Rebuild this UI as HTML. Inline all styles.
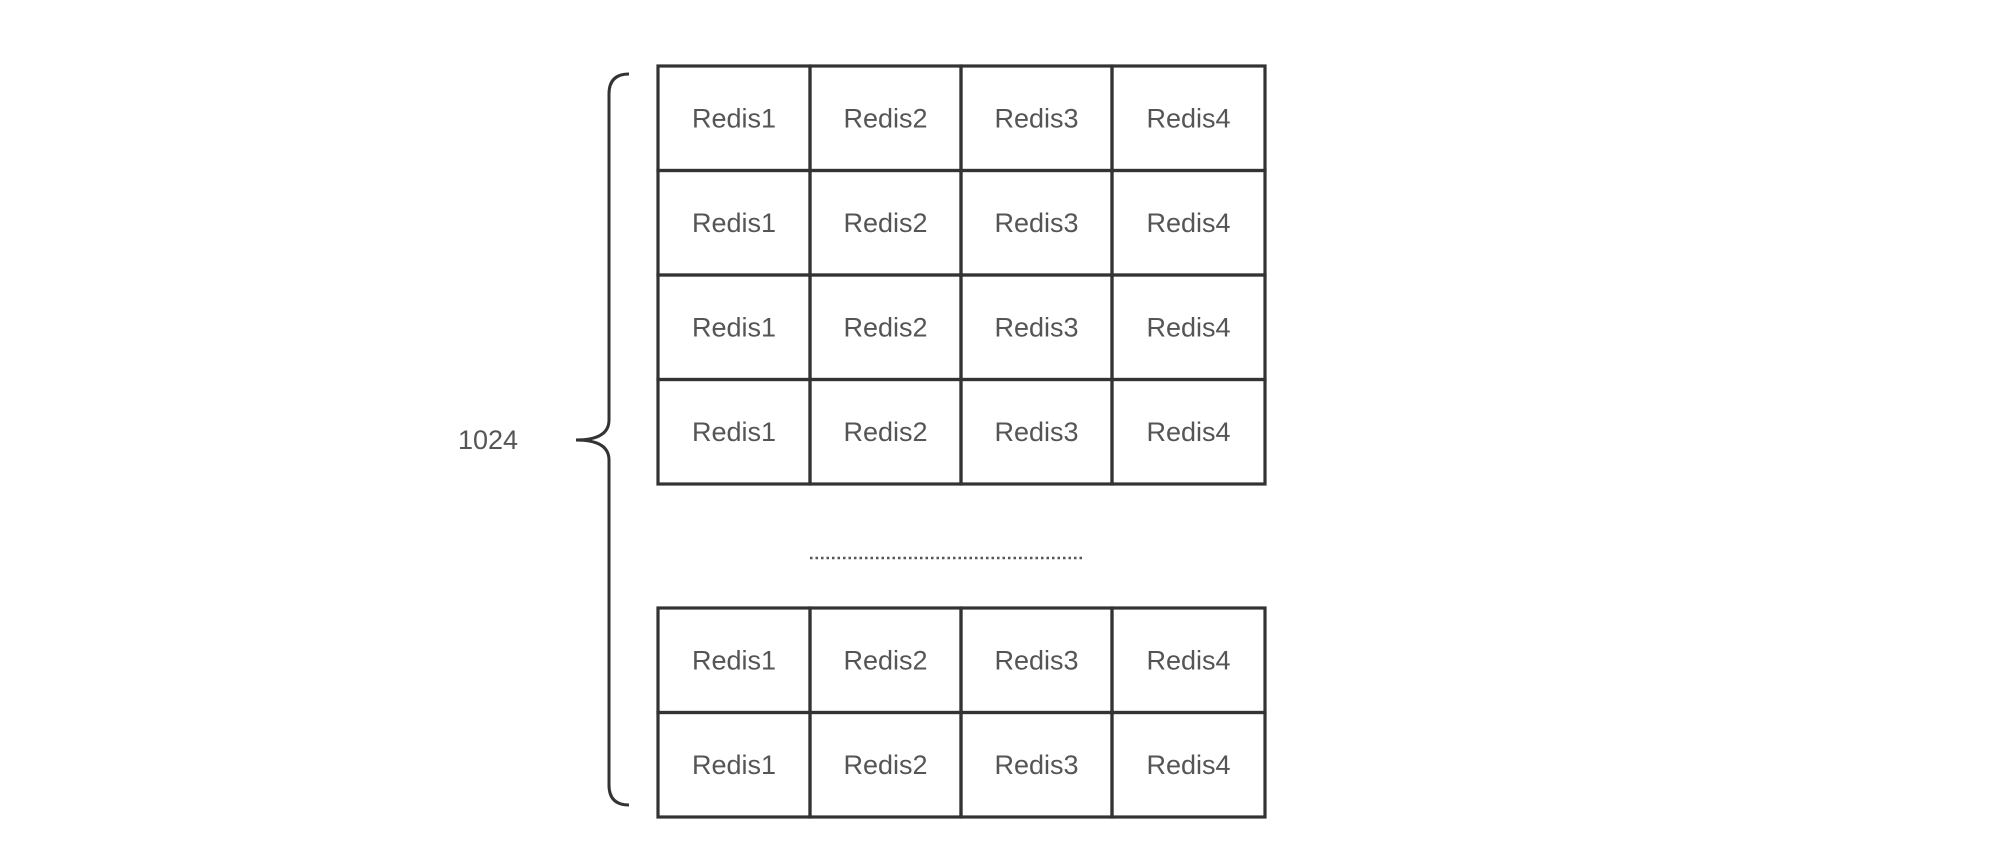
<!DOCTYPE html>
<html><head><meta charset="utf-8"><style>
body{margin:0;background:#fff;width:1992px;height:853px;overflow:hidden;font-family:"Liberation Sans",sans-serif}
svg text{font-family:"Liberation Sans",sans-serif;font-size:27px;fill:#555}
</style></head><body>
<svg width="1992" height="853" id="s">
<text x="458" y="449">1024</text>
<path d="M629,74 Q609,74 609,94 L609,420 Q609,440 576,440 Q609,440 609,460 L609,785 Q609,805 629,805" fill="none" stroke="#333" stroke-width="3"/>
<line x1="810" y1="558" x2="1085" y2="558" stroke="#555" stroke-width="2.5" stroke-dasharray="2.5,3"/>
</svg>
<script>
const cols=["Redis1","Redis2","Redis3","Redis4"];
const tables=[{top:66,rows:4},{top:608,rows:2}];
const xs=[658,810,961,1112,1265];
const rowH=104.5;
const s=document.getElementById('s');
const NS="http://www.w3.org/2000/svg";
tables.forEach((t,ti)=>{
 for(let r=0;r<t.rows;r++){
  for(let c=0;c<4;c++){
   const y=t.top+r*rowH;
   const rect=document.createElementNS(NS,'rect');
   rect.setAttribute('x',xs[c]);rect.setAttribute('y',y);
   rect.setAttribute('width',xs[c+1]-xs[c]);rect.setAttribute('height',rowH);
   rect.setAttribute('fill','none');rect.setAttribute('stroke','#333');rect.setAttribute('stroke-width','3.2');
   
   
   s.appendChild(rect);
   const tx=document.createElementNS(NS,'text');
   tx.setAttribute('x',(xs[c]+xs[c+1])/2);tx.setAttribute('y',y+rowH/2+9);
   tx.setAttribute('text-anchor','middle');tx.textContent=cols[c];
   
   
   s.appendChild(tx);
  }
 }
});
</script>
</body></html>
